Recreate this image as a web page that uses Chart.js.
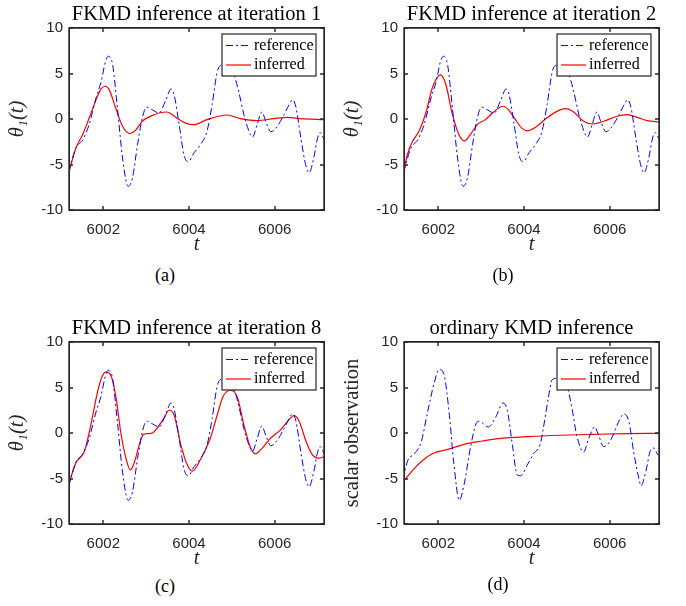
<!DOCTYPE html>
<html>
<head>
<meta charset="utf-8">
<script src="https://cdn.jsdelivr.net/npm/chart.js@4.4.1/dist/chart.umd.min.js"></script>
<style>
  body { margin: 0; background: #fff; }
  #wrap { position: relative; width: 686px; height: 606px; }
  canvas { position: absolute; }
  .cap { position: absolute; width: 60px; text-align: center; font: 18px "Liberation Serif", serif; line-height: 20px; color: #000; }
</style>
</head>
<body>
<div id="wrap">
  <canvas id="chartA" width="343" height="260" style="left:0;top:0"></canvas>
  <canvas id="chartB" width="343" height="260" style="left:335px;top:0"></canvas>
  <canvas id="chartC" width="343" height="260" style="left:0;top:314px"></canvas>
  <canvas id="chartD" width="343" height="260" style="left:335px;top:314px"></canvas>
  <div class="cap" style="left:135px;top:265px">(a)</div>
  <div class="cap" style="left:473px;top:265px">(b)</div>
  <div class="cap" style="left:135px;top:576px">(c)</div>
  <div class="cap" style="left:468px;top:574px">(d)</div>
</div>
<script>
// tick values
const xTicks = [6002, 6004, 6006];
const yTicks = [-10, -5, 0, 5, 10];

// reference signal theta_1(t), panels (a)-(c)
const refT = [6001.19, 6001.36, 6001.52, 6001.67, 6001.83, 6001.95, 6002.05, 6002.12, 6002.17, 6002.22, 6002.33, 6002.45, 6002.58, 6002.68, 6002.80, 6002.91, 6003.01, 6003.15, 6003.30, 6003.46, 6003.58, 6003.65, 6003.77, 6003.88, 6003.98, 6004.12, 6004.27, 6004.42, 6004.54, 6004.66, 6004.76, 6004.90, 6005.05, 6005.16, 6005.28, 6005.40, 6005.48, 6005.59, 6005.70, 6005.79, 6005.91, 6006.06, 6006.22, 6006.34, 6006.41, 6006.49, 6006.61, 6006.72, 6006.80, 6006.91, 6007.00, 6007.06, 6007.16];
const refV = [-5.9, -3.2, -2.3, -0.6, 2.3, 4.1, 6.3, 6.9, 6.7, 5.9, 1.2, -4.3, -7.4, -6.5, -2.8, 0.1, 1.3, 1.0, 0.65, 2.1, 3.3, 2.7, -0.6, -3.9, -4.7, -3.7, -2.8, -1.35, 1.6, 5.2, 5.9, 5.8, 4.85, 3.0, 0.5, -1.35, -2.0, -0.6, 0.77, -0.25, -1.4, -0.8, 0.5, 1.6, 2.1, 1.4, -2.1, -5.0, -5.9, -4.3, -2.1, -1.5, -2.3];

// inferred, iteration 1
const infAT = [6001.19, 6001.36, 6001.52, 6001.67, 6001.83, 6001.95, 6002.05, 6002.14, 6002.29, 6002.45, 6002.62, 6002.76, 6002.91, 6003.15, 6003.48, 6003.69, 6003.92, 6004.12, 6004.42, 6004.89, 6005.20, 6005.59, 6005.98, 6006.30, 6006.61, 6007.16];
const infAV = [-6.0, -3.2, -1.7, 0.1, 2.1, 3.3, 3.6, 3.2, 1.2, -0.8, -1.6, -1.2, -0.25, 0.4, 0.77, 0.2, -0.45, -0.62, -0.07, 0.44, 0.04, -0.18, 0.04, 0.18, 0.04, -0.07];

// inferred, iteration 2
const infBT = [6001.18, 6001.28, 6001.40, 6001.55, 6001.71, 6001.86, 6002.05, 6002.17, 6002.33, 6002.48, 6002.61, 6002.75, 6002.91, 6003.10, 6003.29, 6003.51, 6003.64, 6003.80, 6003.95, 6004.08, 6004.30, 6004.53, 6004.77, 6004.96, 6005.16, 6005.39, 6005.59, 6005.86, 6006.17, 6006.41, 6006.64, 6006.88, 6007.15];
const infBV = [-6.1, -3.9, -2.45, -1.35, 0.66, 3.4, 4.85, 3.9, 0.5, -1.7, -2.4, -1.7, -0.6, -0.07, 0.77, 1.4, 1.0, -0.07, -1.0, -1.3, -0.8, 0.1, 0.84, 1.13, 0.77, -0.25, -0.55, -0.25, 0.3, 0.47, 0.18, -0.18, -0.33];

// inferred, iteration 8
const infCT = [6001.19, 6001.36, 6001.56, 6001.71, 6001.87, 6001.98, 6002.06, 6002.18, 6002.29, 6002.41, 6002.53, 6002.63, 6002.72, 6002.84, 6002.93, 6003.03, 6003.15, 6003.26, 6003.42, 6003.53, 6003.65, 6003.81, 6003.96, 6004.08, 6004.30, 6004.50, 6004.66, 6004.80, 6004.98, 6005.13, 6005.28, 6005.44, 6005.55, 6005.67, 6005.91, 6006.14, 6006.34, 6006.45, 6006.57, 6006.73, 6006.88, 6007.04, 6007.16];
const infCV = [-5.7, -3.3, -2.0, 0.9, 4.6, 6.3, 6.7, 6.3, 4.1, 0, -2.8, -4.06, -3.3, -1.3, -0.2, -0.07, 0, 0.55, 1.66, 2.5, 2.0, -1.3, -3.5, -4.2, -2.6, -0.55, 2.0, 4.06, 4.7, 3.9, 0.9, -1.66, -2.3, -1.85, -0.55, 0.37, 1.5, 1.9, 1.3, -0.9, -2.4, -2.77, -2.6];

// scalar observation, ordinary KMD panel
const obsDT = [6001.17, 6001.29, 6001.44, 6001.60, 6001.75, 6001.91, 6002.02, 6002.14, 6002.26, 6002.36, 6002.49, 6002.60, 6002.76, 6002.88, 6002.95, 6003.17, 6003.34, 6003.51, 6003.61, 6003.73, 6003.84, 6003.92, 6004.09, 6004.22, 6004.38, 6004.45, 6004.57, 6004.65, 6004.74, 6004.88, 6005.00, 6005.12, 6005.23, 6005.39, 6005.51, 6005.65, 6005.74, 6005.86, 6006.02, 6006.17, 6006.33, 6006.45, 6006.56, 6006.68, 6006.73, 6006.84, 6006.95, 6007.02, 6007.13];
const obsDV = [-5.2, -3.0, -2.3, -1.0, 2.3, 5.6, 7.0, 6.3, 1.9, -3.2, -7.4, -5.7, -1.35, 1.0, 1.3, 0.66, 1.75, 3.3, 2.5, -1.35, -4.6, -4.7, -3.4, -2.3, -1.2, 0.5, 3.9, 5.8, 6.0, 5.8, 5.2, 2.7, -0.25, -2.1, -0.6, 0.66, -0.25, -1.5, -0.8, 0.84, 2.1, 1.2, -2.1, -5.0, -5.8, -4.3, -1.9, -1.65, -2.45];
const infDT = [6001.17, 6001.40, 6001.64, 6001.87, 6002.26, 6002.64, 6003.03, 6003.41, 6004.10, 6004.84, 6005.63, 6006.41, 6007.13];
const infDV = [-5.45, -4.1, -3.0, -2.26, -1.75, -1.2, -0.88, -0.62, -0.4, -0.25, -0.15, -0.07, -0.04];

const axisColor = '#262626';
const serif = '"Liberation Serif", "Times New Roman", serif';
const sans = '"Liberation Sans", Arial, sans-serif';

const zip = (t, v) => t.map((x, i) => ({ x: x, y: v[i] }));

// box round the axes, inward ticks, and the legend inside the top right corner
const framePlugin = {
    id: 'frame',
    afterDraw(chart) {
        const c = chart.ctx;
        const a = chart.chartArea;
        const xs = chart.scales.x, ys = chart.scales.y;
        const L = Math.round(a.left), R = Math.round(a.right);
        const T = Math.round(a.top), B = Math.round(a.bottom);
        c.save();
        c.setLineDash([]);
        c.strokeStyle = axisColor;
        c.lineWidth = 1.4;
        c.beginPath();
        c.rect(L, T, R - L, B - T);
        c.stroke();
        c.beginPath();
        xTicks.forEach(v => {
            const px = Math.round(xs.getPixelForValue(v));
            c.moveTo(px, B); c.lineTo(px, B - 4);
            c.moveTo(px, T); c.lineTo(px, T + 4);
        });
        yTicks.forEach(v => {
            const py = Math.round(ys.getPixelForValue(v));
            c.moveTo(L, py); c.lineTo(L + 4, py);
            c.moveTo(R, py); c.lineTo(R - 4, py);
        });
        c.stroke();

        // legend
        const bw = 94, bh = 42;
        const bx = Math.round(a.right - 8 - bw), by = Math.round(a.top + 6);
        c.fillStyle = '#fff';
        c.fillRect(bx, by, bw, bh);
        c.lineWidth = 1.2;
        c.strokeRect(bx, by, bw, bh);
        chart.data.datasets.forEach((ds, i) => {
            const y = by + 11.5 + i * 19.5;
            c.beginPath();
            c.strokeStyle = ds.borderColor;
            c.lineWidth = ds.borderWidth;
            c.setLineDash(ds.borderDash || []);
            c.moveTo(bx + 4, y); c.lineTo(bx + 29, y);
            c.stroke();
            c.setLineDash([]);
            c.fillStyle = '#000';
            c.font = '16px ' + serif;
            c.textBaseline = 'middle';
            c.textAlign = 'left';
            c.fillText(ds.label, bx + 32, y);
        });
        c.restore();
    }
};

const edge = { display: true, color: axisColor, width: 1 };

function makePanel(id, title, yLabel, refX, refY, infX, infY) {
    return new Chart(document.getElementById(id), {
        type: 'line',
        data: {
            datasets: [
                {
                    label: 'reference',
                    data: zip(refX, refY),
                    borderColor: '#0000ff',
                    borderWidth: 1,
                    borderDash: [7, 3, 2, 3],
                    cubicInterpolationMode: 'monotone',
                    pointRadius: 0,
                    fill: false
                },
                {
                    label: 'inferred',
                    data: zip(infX, infY),
                    borderColor: '#ff0000',
                    borderWidth: 1.2,
                    cubicInterpolationMode: 'monotone',
                    pointRadius: 0,
                    fill: false
                }
            ]
        },
        options: {
            responsive: false,
            animation: false,
            devicePixelRatio: 1,
            layout: { padding: { left: 0, right: 19, top: 0, bottom: 0 } },
            plugins: {
                legend: { display: false },
                tooltip: { enabled: false },
                title: {
                    display: true,
                    text: title,
                    fullSize: false,
                    color: '#000',
                    font: { family: serif, size: 20.5, weight: 'normal' },
                    padding: { top: 2, bottom: 1.4 }
                }
            },
            scales: {
                x: {
                    type: 'linear',
                    min: 6001.2,
                    max: 6007.15,
                    grid: { display: false, drawTicks: false },
                    border: edge,
                    afterBuildTicks: s => { s.ticks = xTicks.map(v => ({ value: v })); },
                    afterFit: s => { s.height = 50; },
                    ticks: {
                        autoSkip: false,
                        maxRotation: 0,
                        padding: 11,
                        color: axisColor,
                        font: { family: sans, size: 15 },
                        callback: v => String(v)
                    },
                    title: {
                        display: true,
                        text: 't',
                        color: axisColor,
                        font: { family: serif, size: 20.5, style: 'italic' },
                        padding: { top: 0, bottom: 3.5 }
                    }
                },
                y: {
                    min: -10,
                    max: 10,
                    grid: { display: false, drawTicks: false },
                    border: edge,
                    afterBuildTicks: s => { s.ticks = yTicks.map(v => ({ value: v })); },
                    afterFit: s => { s.width = 69; },
                    ticks: {
                        padding: 6,
                        color: axisColor,
                        font: { family: sans, size: 15 },
                        callback: v => String(v)
                    },
                    title: {
                        display: true,
                        text: yLabel,
                        color: axisColor,
                        font: { family: serif, size: 20.5, style: yLabel.length < 8 ? 'italic' : 'normal' },
                        padding: { top: 5, bottom: 0 }
                    }
                },
                // top and right edges of the box
                x2: {
                    type: 'linear',
                    position: 'top',
                    min: 6001.2,
                    max: 6007.15,
                    grid: { display: false, drawTicks: false },
                    border: edge,
                    ticks: { display: false },
                    afterFit: s => { s.height = 0; }
                },
                y2: {
                    position: 'right',
                    min: -10,
                    max: 10,
                    grid: { display: false, drawTicks: false },
                    border: edge,
                    ticks: { display: false },
                    afterFit: s => { s.width = 0; }
                }
            }
        },
        plugins: [framePlugin]
    });
}

makePanel('chartA', 'FKMD inference at iteration 1', 'θ₁(t)', refT, refV, infAT, infAV);
makePanel('chartB', 'FKMD inference at iteration 2', 'θ₁(t)', refT, refV, infBT, infBV);
makePanel('chartC', 'FKMD inference at iteration 8', 'θ₁(t)', refT, refV, infCT, infCV);
makePanel('chartD', 'ordinary KMD inference', 'scalar observation', obsDT, obsDV, infDT, infDV);
</script>
</body>
</html>
